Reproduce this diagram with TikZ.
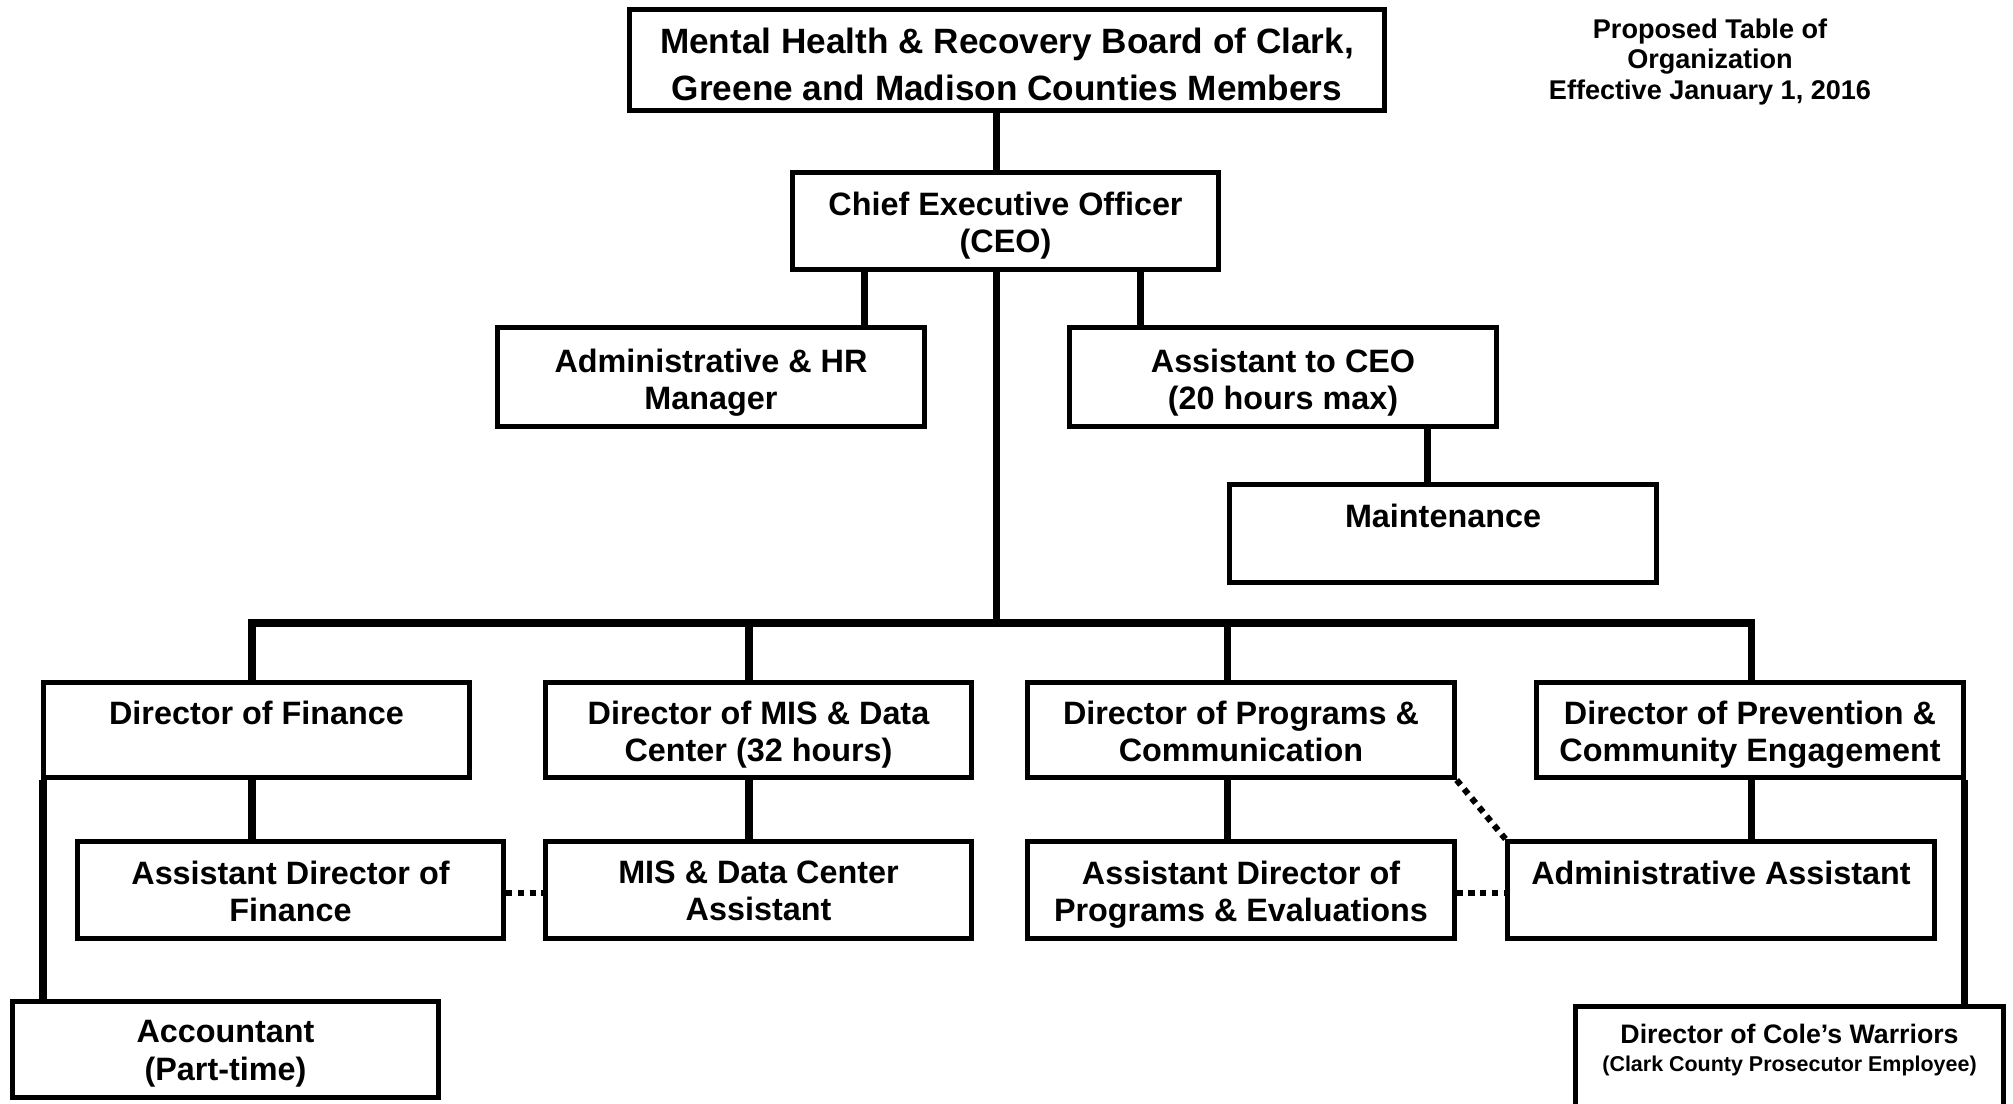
\documentclass[tikz,border=0pt]{standalone}
\usepackage{fontspec}
\setmainfont{Liberation Sans}
\begin{document}
\begin{tikzpicture}[x=0.01cm, y=-0.01cm,
  box/.style={draw, line width=1.42pt, inner sep=0pt, minimum width=4.26cm, minimum height=0.97cm},
  txt/.style={font=\fontsize{9.2}{10.6}\selectfont\bfseries, align=center, inner sep=0pt, anchor=north},
  conn/.style={line width=2pt, line join=miter},
  dotline/.style={line width=1.75pt, dash pattern=on 1.75pt off 1.6pt}]
\path[use as bounding box, fill=white] (0,0) rectangle (2013,1104);

% boxes
\node[box, minimum width=7.55cm, minimum height=1.01cm] (board) at (1007,60) {};
\node[box] (ceo)   at (1005.5,221) {};
\node[box, minimum height=0.99cm] (hr)    at (711,377) {};
\node[box, minimum height=0.99cm] (asst)  at (1283,377) {};
\node[box, minimum height=0.98cm] (maint) at (1443,533.5) {};
\node[box, minimum height=0.95cm] (fin)   at (256.5,730) {};
\node[box, minimum height=0.95cm] (mis)   at (758.5,730) {};
\node[box, minimum height=0.95cm] (prog)  at (1241,730) {};
\node[box, minimum height=0.95cm] (prev)  at (1750,730) {};
\node[box] (afin)  at (290.5,890) {};
\node[box] (amis)  at (758.5,890) {};
\node[box] (aprog) at (1241,890) {};
\node[box] (aadm)  at (1721,890) {};
\node[box, minimum height=0.96cm] (acct)  at (225.5,1049.5) {};
\node[box, minimum width=4.28cm, minimum height=1.21cm] (cole) at (1789.5,1067) {};

% texts
\node[txt, font=\fontsize{10}{13.4}\selectfont\bfseries] (board-t) at (1007,27)
  {Mental Health \& Recovery Board of Clark,\\Greene and Madison Counties Members};
\node[txt] (ceo-t)   at (1005.5,191) {Chief Executive Officer\\(CEO)};
\node[txt] (hr-t)    at (711,348)    {Administrative \& HR\\Manager};
\node[txt] (asst-t)  at (1283,348)   {Assistant to CEO\\(20 hours max)};
\node[txt] (maint-t) at (1443,503)   {Maintenance};
\node[txt] (fin-t)   at (256.5,700)  {Director of Finance};
\node[txt] (mis-t)   at (758.5,700)  {Director of MIS \& Data\\Center (32 hours)};
\node[txt] (prog-t)  at (1241,700)   {Director of Programs \&\\Communication};
\node[txt] (prev-t)  at (1750,700)   {Director of Prevention \&\\Community Engagement};
\node[txt] (afin-t)  at (290.5,860)  {Assistant Director of\\Finance};
\node[txt] (amis-t)  at (758.5,860)  {MIS \& Data Center\\Assistant};
\node[txt] (aprog-t) at (1241,860)   {Assistant Director of\\Programs \& Evaluations};
\node[txt] (aadm-t)  at (1721,860)   {Administrative Assistant};
\node[txt] (acct-t)  at (225.5,1020) {Accountant\\(Part-time)};
\node[txt, anchor=base, font=\fontsize{7.6}{9}\selectfont\bfseries] (cole-t1) at (1789.5,1043) {Director of Cole’s Warriors};
\node[txt, anchor=base, font=\fontsize{6.1}{7}\selectfont\bfseries] (cole-t2) at (1789.5,1071) {(Clark County Prosecutor Employee)};
\node[txt, font=\fontsize{7.7}{8.7}\selectfont\bfseries] (note) at (1710,18)
  {Proposed Table of\\Organization\\Effective January 1, 2016};

% connector columns and bus level
\coordinate (xt)  at (996,0);
\coordinate (xhr) at (864,0);
\coordinate (xas) at (1140,0);
\coordinate (xmt) at (1427,0);
\coordinate (xb1) at (252,0);
\coordinate (xb2) at (749,0);
\coordinate (xb3) at (1227,0);
\coordinate (xb4) at (1751,0);
\coordinate (xac) at (43,0);
\coordinate (xco) at (1964,0);
\coordinate (bus) at (0,623);
\coordinate (ydot) at (0,893);

% reporting lines
\draw[conn] (board.south -| xt) -- (ceo.north -| xt);
\draw[conn] (ceo.south -| xhr) -- (hr.north -| xhr);
\draw[conn] (ceo.south -| xas) -- (asst.north -| xas);
\draw[conn] (asst.south -| xmt) -- (maint.north -| xmt);
\draw[conn] (ceo.south -| xt) -- (bus -| xt);
\draw[conn] (fin.north -| xb1) -- (bus -| xb1) -- (bus -| xb4) -- (prev.north -| xb4);
\draw[conn] (bus -| xb2) -- (mis.north -| xb2);
\draw[conn] (bus -| xb3) -- (prog.north -| xb3);
\draw[conn] (fin.south -| xb1) -- (afin.north -| xb1);
\draw[conn] (mis.south -| xb2) -- (amis.north -| xb2);
\draw[conn] (prog.south -| xb3) -- (aprog.north -| xb3);
\draw[conn] (prev.south -| xb4) -- (aadm.north -| xb4);
\draw[conn] (fin.south -| xac) -- (acct.north -| xac);
\draw[conn] (prev.south -| xco) -- (cole.north -| xco);

% dotted links
\draw[dotline] (ydot -| afin.east) -- (ydot -| amis.west);
\draw[dotline] (ydot -| aprog.east) -- (ydot -| aadm.west);
\draw[dotline] (prog.south east) -- (aadm.north west);
\end{tikzpicture}
\end{document}
